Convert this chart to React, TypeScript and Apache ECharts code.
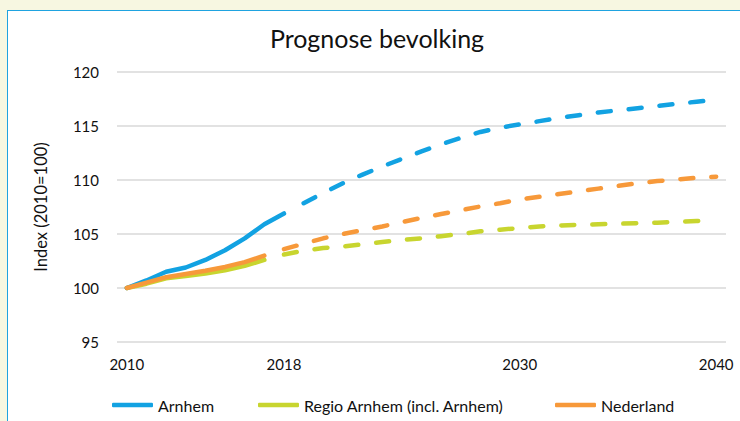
import React, { useEffect, useRef } from "react";
import * as echarts from "echarts";

const years = [
  "2010", "2011", "2012", "2013", "2014", "2015", "2016", "2017", "2018", "2019",
  "2020", "2021", "2022", "2023", "2024", "2025", "2026", "2027", "2028", "2029",
  "2030", "2031", "2032", "2033", "2034", "2035", "2036", "2037", "2038", "2039", "2040",
];
const shownTickLabels = ["2010", "2018", "2030", "2040"];

// Arnhem: observed 2010-2018, forecast 2019-2040
const arnhemObserved = [100, 100.7, 101.5, 101.9, 102.6, 103.5, 104.6, 105.9, 106.9];
const arnhemForecast = [
  107.85, 108.8, 109.7, 110.5, 111.25, 111.95, 112.65, 113.3, 113.9, 114.45, 114.85,
  115.15, 115.45, 115.75, 116.0, 116.25, 116.45, 116.65, 116.85, 117.05, 117.25, 117.45,
];
// Regio Arnhem: observed 2010-2017, forecast 2018-2040
const regioObserved = [100, 100.4, 100.9, 101.1, 101.35, 101.65, 102.05, 102.6];
const regioForecast = [
  103.1, 103.45, 103.7, 103.85, 104.05, 104.25, 104.45, 104.6, 104.8, 105.0, 105.25, 105.4,
  105.55, 105.7, 105.78, 105.85, 105.9, 105.95, 106.0, 106.05, 106.12, 106.2, 106.25,
];
// Nederland: observed 2010-2017, forecast 2018-2040
const nlObserved = [100, 100.5, 101.0, 101.3, 101.6, 101.95, 102.4, 103.0];
const nlForecast = [
  103.6, 104.1, 104.6, 105.0, 105.35, 105.7, 106.1, 106.5, 106.85, 107.2, 107.55, 107.85,
  108.2, 108.45, 108.7, 108.95, 109.2, 109.45, 109.7, 109.9, 110.05, 110.2, 110.3,
];

const names = ["Arnhem", "Regio Arnhem (incl. Arnhem)", "Nederland"];
const colors = ["#12a2e2", "#c8d52f", "#f7993a"];

const FONT = "Lato";

function padObserved(vals: number[]) {
  return years.map((_, i) => (i < vals.length ? vals[i] : null));
}
function padForecast(vals: number[]) {
  const offset = years.length - vals.length;
  return years.map((_, i) => (i >= offset ? vals[i - offset] : null));
}

export default function App() {
  const ref = useRef<HTMLDivElement>(null);
  useEffect(() => {
    if (!ref.current) return;
    const chart = echarts.init(ref.current, undefined, { renderer: "svg" });
    const observed = [arnhemObserved, regioObserved, nlObserved];
    const forecast = [arnhemForecast, regioForecast, nlForecast];
    const series: any[] = [];
    names.forEach((n, k) => {
      series.push({
        name: n,
        type: "line",
        data: padObserved(observed[k]),
        symbol: "none",
        connectNulls: false,
        lineStyle: { color: colors[k], width: 4.5, cap: "round", join: "round" },
        itemStyle: { color: colors[k] },
        z: k === 1 ? 2 : 3,
      });
    });
    names.forEach((n, k) => {
      series.push({
        name: n + " prognose",
        type: "line",
        data: padForecast(forecast[k]),
        symbol: "none",
        connectNulls: false,
        lineStyle: { color: colors[k], width: 4.5, type: [13, 18], cap: "round", join: "round" },
        itemStyle: { color: colors[k] },
      });
    });
    const legendLefts = [112, 258, 555];
    chart.setOption({
      animation: false,
      backgroundColor: "transparent",
      textStyle: { fontFamily: FONT },
      title: {
        text: "Prognose bevolking",
        left: 372,
        top: 20,
        textAlign: "center",
        textStyle: { fontFamily: FONT, fontSize: 25, fontWeight: "normal", color: "#111" },
      },
      legend: names.map((n, k) => ({
        data: [n],
        left: legendLefts[k],
        top: 397,
        padding: 0,
        icon: "roundRect",
        itemWidth: 41,
        itemHeight: 4.5,
        textStyle: { fontFamily: FONT, fontSize: 16, color: "#111" },
        selectedMode: false,
      })),
      grid: { left: 117, right: 14, top: 72, bottom: 79, containLabel: false },
      xAxis: {
        type: "category",
        data: years,
        boundaryGap: true,
        axisLine: { show: false },
        axisTick: { show: false },
        axisLabel: {
          interval: 0,
          margin: 14,
          fontFamily: FONT,
          fontSize: 15,
          color: "#111",
          formatter: (v: string) => (shownTickLabels.includes(v) ? v : ""),
        },
        splitLine: { show: false },
      },
      yAxis: {
        type: "value",
        min: 95,
        max: 120,
        interval: 5,
        name: "Index (2010=100)",
        nameLocation: "middle",
        nameGap: 68,
        nameTextStyle: { fontFamily: FONT, fontSize: 16.5, color: "#111" },
        axisLine: { show: false },
        axisTick: { show: false },
        axisLabel: { margin: 18, fontFamily: FONT, fontSize: 15, color: "#111" },
        splitLine: { lineStyle: { color: "#d9d9d9", width: 1.5 } },
      },
      series,
    });
    return () => chart.dispose();
  }, []);
  return (
    <div
      style={{
        position: "fixed",
        left: 0,
        top: 0,
        width: 740,
        height: 421,
        background: "#f7f7e1",
        overflow: "hidden",
      }}
    >
      <div
        style={{
          position: "absolute",
          left: 7,
          top: 10,
          width: 760,
          height: 440,
          background: "#ffffff",
          border: "1.5px solid #1fa3e0",
        }}
      />
      <div ref={ref} style={{ position: "absolute", left: 0, top: 0, width: 740, height: 421 }} />
    </div>
  );
}
